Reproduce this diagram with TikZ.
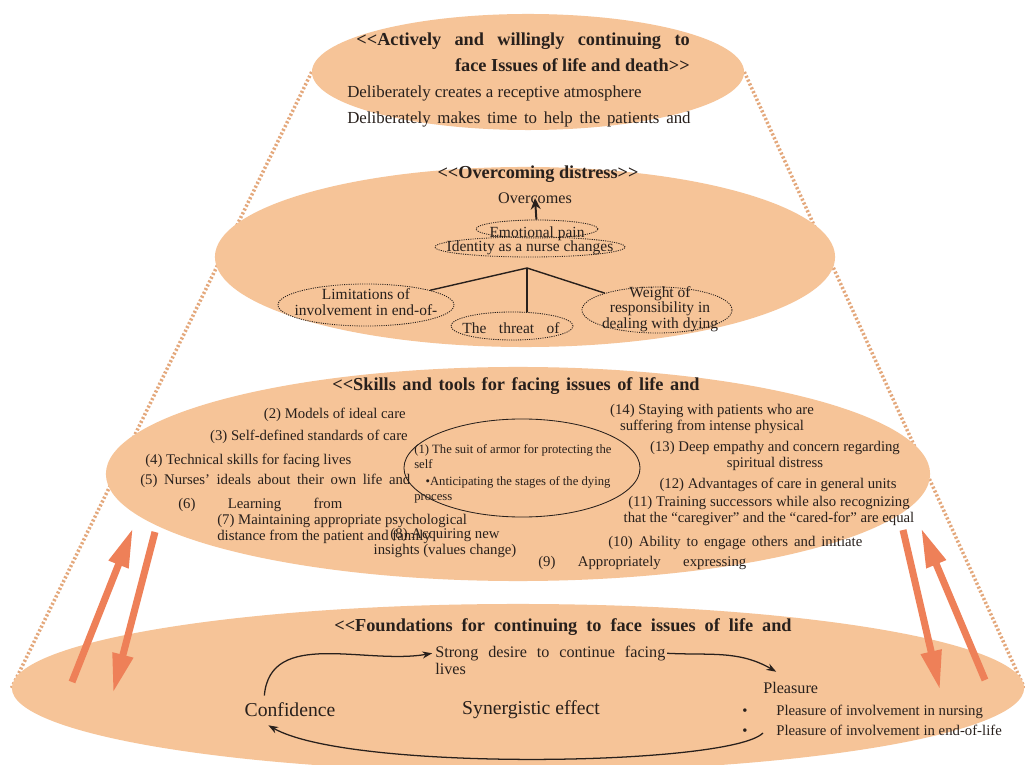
\documentclass[tikz,border=0pt]{standalone}
\usepackage{fontspec}
\setmainfont{Liberation Serif}
\usetikzlibrary{shapes.geometric,arrows.meta,backgrounds}

\definecolor{peach}{RGB}{246,196,152}
\definecolor{guide}{RGB}{228,168,124}
\definecolor{salmon}{RGB}{238,128,88}
\definecolor{ink}{RGB}{40,32,28}

\newcommand{\fsz}[2]{\fontsize{#1}{#2}\selectfont}
\newcommand{\spread}[2]{\makebox[#1][s]{#2}}
\newcommand{\opn}{<\kern0pt<}
\newcommand{\cls}{>\kern0pt>}

\begin{document}
\begin{tikzpicture}[x=0.025cm, y=0.025cm,
    tier/.style={ellipse, fill=peach, inner sep=0pt},
    oval/.style={ellipse, draw=ink, line width=0.6pt, dash pattern=on 0.8pt off 0.8pt, inner sep=0pt},
    txt/.style={text=ink, inner sep=0pt, font=\fsz{10.5}{11}},
    head/.style={text=ink, inner sep=0pt, font=\bfseries\fsz{13}{15}},
    guideline/.style={draw=guide, line width=2.5pt, dash pattern=on 1.5pt off 1.5pt},
    bigarrow/.style={draw=salmon, line width=5pt, -{Triangle[length=28pt,width=14pt]}},
    loopline/.style={draw=ink, line width=0.9pt, -{Stealth[length=7pt,width=5pt]}},
    branch/.style={draw=ink, line width=1pt}
]
\useasboundingbox (0,0) rectangle (1025,764);

% the four tiers
\node[tier, minimum width=10.8cm, minimum height=2.9cm] (active) at (528,692) {};
\node[tier, minimum width=15.5cm, minimum height=4.5cm] (distress) at (525,507) {};
\node[tier, minimum width=20.6cm, minimum height=5.35cm] (skills) at (518,290) {};
\node[tier, minimum width=25.3cm, minimum height=4.2cm] (found) at (518,76) {};

\begin{scope}[on background layer]
\fill[white] (0,0) rectangle (1025,764);
\draw[guideline] (active.west) -- (found.west);
\draw[guideline] (active.east) -- (found.east);
\end{scope}

% top tier
\node[head, anchor=mid east] (a1) at (690,722) {\spread{8.33cm}{\opn Actively and willingly continuing to}};
\node[head, anchor=mid east] (a2) at (690,696) {face Issues of life and death\cls};
\node[txt, font=\fsz{12}{14}, anchor=mid west] (a3) at (347,670) {Deliberately creates a receptive atmosphere};
\node[txt, font=\fsz{12}{14}, anchor=mid west] (a4) at (347,644) {\spread{8.58cm}{Deliberately makes time to help the patients and}};

% overcoming distress
\node[head] (d0) at (538,590) {\opn Overcoming distress\cls};
\node[txt, font=\fsz{11.5}{13}] (over) at (535,566) {Overcomes};
\node[oval, minimum width=3.05cm, minimum height=0.45cm] (pain) at (537,535) {};
\node[txt, font=\fsz{11}{12}] (paintxt) at (537,530) {Emotional pain};
\node[oval, minimum width=4.75cm, minimum height=0.5cm] (ident) at (530,517) {};
\node[txt, font=\fsz{11}{12}] (identtxt) at (530,516) {Identity as a nurse changes};
\coordinate (junc) at (527,496);
\node[oval, minimum width=4.4cm, minimum height=1.05cm] (limit) at (366,459) {};
\node[txt, font=\fsz{11}{11.5}, align=center] (limittxt) at (366,462) {Limitations of\\involvement in end-of-};
\node[oval, minimum width=3.05cm, minimum height=0.7cm] (threat) at (512,438) {};
\node[txt, font=\fsz{11}{12}] (threattxt) at (511,436) {\spread{2.43cm}{The threat of}};
\node[oval, minimum width=3.75cm, minimum height=1.15cm] (weight) at (657,454) {};
\node[txt, font=\fsz{11}{9.8}, align=center] (weighttxt) at (660,455) {Weight of\\responsibility in\\dealing with dying};

\draw[-{Stealth[length=8pt,width=7pt]}, draw=ink, line width=1.4pt] (pain) -- ([yshift=4pt]over.south);
\draw[branch] (junc) -- (limit);
\draw[branch] (junc) -- (junc |- threat.north);
\draw[branch] (junc) -- (weight);

% skills and tools
\node[head] (s0) at (516,378) {\spread{9.18cm}{\opn Skills and tools for facing issues of life and}};
\node[txt, anchor=mid east] (s2) at (406,349) {(2) Models of ideal care};
\node[txt, anchor=mid east] (s3) at (408,327) {(3) Self-defined standards of care};
\node[txt, anchor=mid west] (s4) at (145,303) {(4) Technical skills for facing lives};
\node[txt, anchor=mid west] (s5) at (140,283) {\spread{6.75cm}{(5) Nurses' ideals about their own life and}};
\node[txt, anchor=mid west] (s6) at (178,259) {\spread{4.1cm}{(6) Learning from}};
\node[txt, align=left, anchor=west] (s7) at (217,235) {(7) Maintaining appropriate psychological\\distance from the patient and family};
\node[txt, align=center] (s8) at (445,221) {(8) Acquiring new\\insights (values change)};
\node[txt, align=center] (s14) at (712,345) {(14) Staying with patients who are\\suffering from intense physical};
\node[txt, align=center] (s13) at (775,308) {(13) Deep empathy and concern regarding\\spiritual distress};
\node[txt] (s12) at (778,279) {(12) Advantages of care in general units};
\node[txt, align=center] (s11) at (769,253) {(11) Training successors while also recognizing\\that the ``caregiver'' and the ``cared-for'' are equal};
\node[txt, anchor=mid west] (s10) at (608,221) {\spread{6.35cm}{(10) Ability to engage others and initiate}};
\node[txt, anchor=mid west] (s9) at (538,201) {\spread{5.2cm}{(9) Appropriately expressing}};

\node[ellipse, draw=ink, line width=0.6pt, minimum width=5.9cm, minimum height=2.45cm, inner sep=0pt] (armor) at (522,296) {};
\node[txt, font=\fsz{9}{10.7}, align=left, anchor=west] (armortxt) at (414,290) {(1) The suit of armor for protecting the\\self\\[1.5pt]\hspace{0.9em}•Anticipating the stages of the dying\\process};

% foundations
\node[head] (f0) at (563,137) {\spread{11.43cm}{\opn Foundations for continuing to face issues of life and}};
\node[txt, font=\fsz{11.5}{13}, anchor=mid west] (desire) at (435,110) {\spread{5.75cm}{Strong desire to continue facing}};
\node[txt, font=\fsz{11.5}{13}, anchor=mid west] (lives) at (435,93) {lives};
\node[txt, font=\fsz{14}{16}] (conf) at (290,54) {Confidence};
\node[txt, font=\fsz{14}{16}] (syn) at (531,54) {Synergistic effect};
\node[txt, font=\fsz{11.5}{13}, anchor=mid west] (pleas) at (763,74) {Pleasure};
\node[txt, anchor=mid west] (p1) at (742,52) {\makebox[0.85cm][l]{•}Pleasure of involvement in nursing};
\node[txt, anchor=mid west] (p2) at (742,32) {\makebox[0.85cm][l]{•}Pleasure of involvement in end-of-life};
\coordinate (loopstart) at (763,31);

\draw[loopline] ([shift={(0.5cm,0.18cm)}]conf.north west) to[out=85,in=190] ([xshift=-2pt]desire.west);
\draw[loopline] ([xshift=1pt]desire.east) to[out=-3,in=150] ([shift={(0.33cm,0.25cm)}]pleas.north west);
\draw[loopline] (loopstart) .. controls (730,-2) and (350,-8) .. ([shift={(0.6cm,-0.2cm)}]conf.south west);

% arrows between foundations and skills
\coordinate (lu0) at (72,82);
\coordinate (lu1) at (133,236);
\coordinate (ld0) at (155,232);
\coordinate (ld1) at (113,71);
\coordinate (rd0) at (903,234);
\coordinate (rd1) at (940,74);
\coordinate (ru0) at (985,84);
\coordinate (ru1) at (921,236);
\draw[bigarrow] (lu0) -- (lu1);
\draw[bigarrow] (ld0) -- (ld1);
\draw[bigarrow] (rd0) -- (rd1);
\draw[bigarrow] (ru0) -- (ru1);
\end{tikzpicture}
\end{document}
